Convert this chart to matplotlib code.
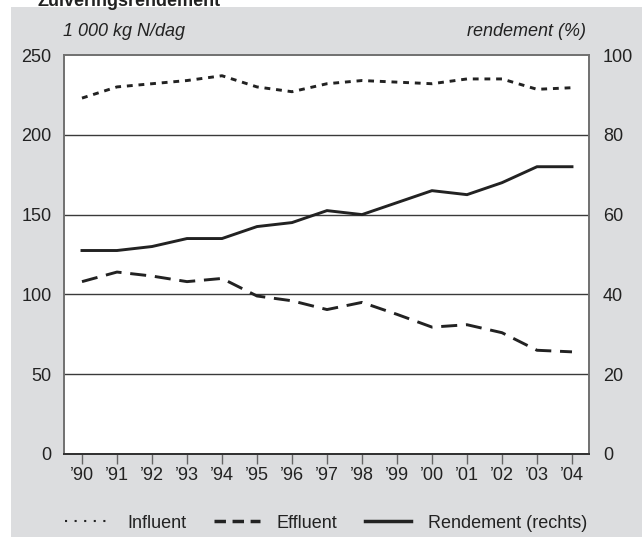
import matplotlib
matplotlib.use("Agg")
import matplotlib.pyplot as plt
from matplotlib.lines import Line2D
from matplotlib.patches import Rectangle

plt.rcParams['font.family'] = ['Liberation Sans', 'DejaVu Sans']

# data
years = list(range(1990, 2005))
year_labels = ["\u2019%02d" % (y % 100) for y in years]
influent = [223, 230, 232, 234, 237, 230, 227, 232, 234, 233, 232, 235, 235, 228.5, 229.5]
effluent = [108, 114, 111.5, 108, 110, 99, 96, 90.5, 95, 87.5, 79.5, 81, 76, 65, 64]
rendement = [51, 51, 52, 54, 54, 57, 58, 61, 60, 63, 66, 65, 68, 72, 72]

left_ticks = [0, 50, 100, 150, 200, 250]
right_ticks = [0, 20, 40, 60, 80, 100]

W, H = 642, 537
BG = '#dcdddf'
INK = '#222222'
FS = 13

fig = plt.figure(figsize=(W / 100, H / 100), dpi=100)
fig.patch.set_facecolor('white')
fig.patches.append(Rectangle((11 / W, 0), 1, 1 - 7 / H, transform=fig.transFigure,
                             facecolor=BG, edgecolor='none', zorder=-10))
# title, cut off at the top edge as in the source
fig.text(37 / W, 1 - 6 / H, 'Zuiveringsrendement', fontsize=13, weight='bold',
         color=INK, va='baseline', zorder=5)

ax = fig.add_axes([64 / W, (H - 454) / H, (589 - 64) / W, (454 - 55) / H])
ax.set_facecolor('white')
ax2 = ax.twinx()

# gridlines
for v in left_ticks[1:-1]:
    ax.axhline(v, color='#3a3a3a', lw=1.0, zorder=1)

ax.plot(years, influent, color=INK, lw=2.1, linestyle=(0, (2, 2)), zorder=3)
ax.plot(years, effluent, color=INK, lw=2.1, linestyle=(0, (5.5, 3)), zorder=3)
ax2.plot(years, rendement, color=INK, lw=2.1, solid_joinstyle='miter', zorder=3)

ax.set_xlim(1989.486, 2004.486)
ax.set_ylim(0, 250)
ax2.set_ylim(0, 100)

ax.set_xticks(years)
ax.set_xticklabels(year_labels, fontsize=FS, color=INK)
ax.set_yticks(left_ticks)
ax.set_yticklabels([str(v) for v in left_ticks], fontsize=FS, color=INK)
ax2.set_yticks(right_ticks)
ax2.set_yticklabels([str(v) for v in right_ticks], fontsize=FS, color=INK)

ax.tick_params(axis='x', direction='out', length=7, width=1, color='#666666', pad=2)
ax.tick_params(axis='y', length=0, pad=9)
ax2.tick_params(axis='y', length=0, pad=10)

for a in (ax, ax2):
    for side in ('left', 'top', 'right'):
        a.spines[side].set_color('#707070')
        a.spines[side].set_linewidth(1.2)
    a.spines['bottom'].set_color('#333333')
    a.spines['bottom'].set_linewidth(1.4)

fig.text(63 / W, 1 - 31 / H, '1 000 kg N/dag', fontsize=FS, style='italic',
         color=INK, va='center', ha='left')
fig.text(586 / W, 1 - 31 / H, 'rendement (%)', fontsize=FS, style='italic',
         color=INK, va='center', ha='right')

handles = [
    Line2D([], [], color=INK, lw=1.5, linestyle=(0, (1, 3.6)), dash_capstyle='butt'),
    Line2D([], [], color=INK, lw=2.5, linestyle=(0, (3.3, 1.9))),
    Line2D([], [], color=INK, lw=2.5),
]
labels = ['Influent', 'Effluent', 'Rendement (rechts)']
fig.legend(handles, labels, loc='center left', bbox_to_anchor=(65 / W, 1 - 523 / H),
           ncol=3, frameon=False, fontsize=FS, handlelength=2.5, handletextpad=0.95,
           columnspacing=1.55, borderpad=0, borderaxespad=0, labelcolor=INK)

fig.savefig('out.png', dpi=100, facecolor=fig.get_facecolor())
